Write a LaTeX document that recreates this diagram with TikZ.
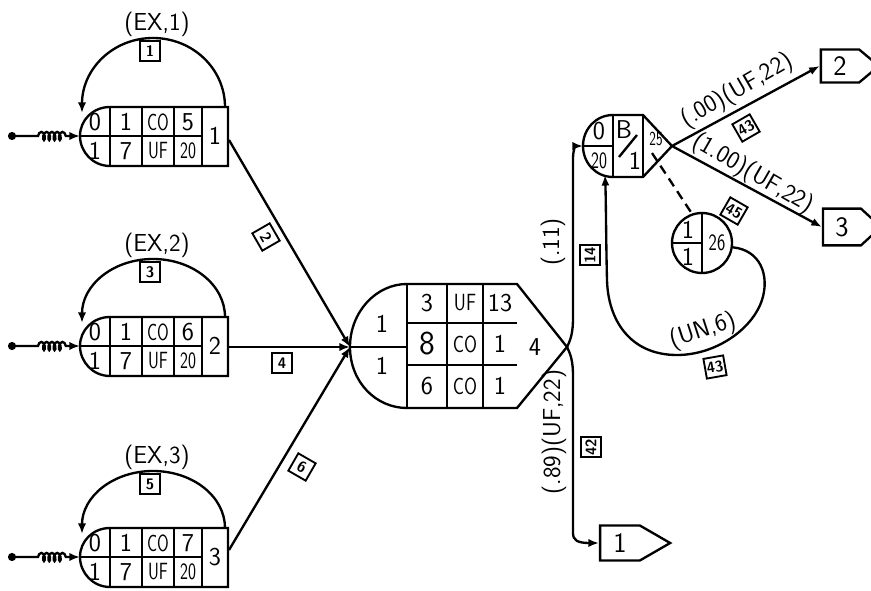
\documentclass[tikz,border=0pt]{standalone}
\usepackage{fontspec}
\usetikzlibrary{arrows.meta,positioning,shapes.symbols,decorations.pathmorphing}

\begin{document}
\begin{tikzpicture}[x=0.3mm,y=-0.3mm,>={Latex[length=9pt,width=7pt]},
  line width=2pt,
  celltxt/.style={font=\sffamily\fontsize{22}{22}\selectfont,inner sep=0pt},
  cellsm/.style={font=\sffamily\fontsize{20}{20}\selectfont,inner sep=0pt},
  edgelab/.style={font=\sffamily\fontsize{21}{21}\selectfont,inner sep=1pt},
  idbox/.style={draw,line width=1.6pt,font=\sffamily\bfseries\fontsize{13}{13}\selectfont,minimum size=6mm,inner sep=0pt},
  sinkbox/.style={draw,signal,signal to=east,line width=2pt,font=\sffamily\fontsize{24}{24}\selectfont,inner sep=0pt}]
\useasboundingbox (0,0) rectangle (871,591);

% source nodes with feedback loops
\foreach \c/\n/\a/\b/\r/\o in {136/1/5/1/69/4,346/2/6/3/58/1,557/3/7/5/57/-7}{
\begin{scope}[shift={(0,\c)}]
  \draw (228,-29) -- (110,-29) .. controls (93,-29) and (80,-16) .. (80,0)
    .. controls (80,16) and (93,30) .. (110,30) -- (228,30) -- cycle;
  \draw (80,0) -- (202,0) (110,-29) -- (110,30) (142,-29) -- (142,30)
    (174,-29) -- (174,30) (202,-29) -- (202,30);
  \node[celltxt] at (95,-14) {0};
  \node[celltxt] at (95,15) {1};
  \node[celltxt] at (126,-14) {1};
  \node[celltxt] at (126,15) {7};
  \node[cellsm] at (158,-14) {\scalebox{.72}[1]{CO}};
  \node[cellsm] at (158,15) {\scalebox{.72}[1]{UF}};
  \node[celltxt] at (188,-14) {\a};
  \node[cellsm] at (188,15) {\scalebox{.72}[1]{20}};
  \node[celltxt] (src\n) at (215,0) {\n};
  \coordinate (out\n) at (229,\o);
  \coordinate (in\n) at (12,0);
  \fill (in\n) circle (3.5pt);
  \draw[->] (in\n) -- (38,0)
    decorate[decoration={coil,aspect=0.5,segment length=4.5pt,amplitude=3.5pt}] {-- (66,0)}
    -- (80,0);
  \draw[->] (225,-29) .. controls (225,-29-0.55*\r) and (193,-29-\r) .. (153,-29-\r)
    .. controls (113,-29-\r) and (82,-29-0.55*\r) .. (82,-23);
  \node[edgelab] at (157,-43-\r) {(EX,\n)};
  \node[idbox] at (150,-16-\r) {\b};
\end{scope}}

% merge node 4
\draw (517,284) -- (407,284) .. controls (376,284) and (350,312) .. (350,347)
  .. controls (350,382) and (376,408) .. (407,408) -- (517,408) -- (567,347) -- cycle;
\draw (350,347) -- (407,347) (407,284) -- (407,408) (447,284) -- (447,408)
  (483,284) -- (483,408) (407,323) -- (517,323) (407,365) -- (517,365);
\node[celltxt] at (382,324) {1};
\node[celltxt] at (382,366) {1};
\node[celltxt] at (427,303) {3};
\node[cellsm] at (465,303) {\scalebox{.8}[1]{UF}};
\node[celltxt] at (500,303) {13};
\node[celltxt,scale=1.3] at (427,344) {8};
\node[cellsm] at (465,344) {\scalebox{.8}[1]{CO}};
\node[celltxt] at (500,344) {1};
\node[celltxt] at (427,386) {6};
\node[cellsm] at (465,386) {\scalebox{.8}[1]{CO}};
\node[celltxt] at (500,386) {1};
\node[celltxt] (merge) at (535,347) {4};
\coordinate (mid) at (350,347);
\coordinate (n4tip) at (567,347);

\draw[->] (out1) -- (mid);
\draw[->] (out2) -- (mid);
\draw[->] (out3) -- (mid);
\node[idbox,rotate=-60] at (266,237) {2};
\node[idbox] at (282,363) {4};
\node[idbox,rotate=-30] at (302,467) {6};

% branch node B
\draw (643,115) -- (613,115) .. controls (596,115) and (583,129) .. (583,146)
  .. controls (583,163) and (596,177) .. (613,177) -- (643,177) -- (672,146) -- cycle;
\draw (583,146) -- (613,146) (613,115) -- (613,177) (643,115) -- (643,177);
\draw (619,157) -- (637,135);
\node[celltxt] at (599,131) {0};
\node[cellsm] at (599,161) {\scalebox{.72}[1]{20}};
\node[celltxt] (bnode) at (624,130) {B};
\node[celltxt] at (635,161) {1};
\node[cellsm] at (656,139) {\scalebox{.6}[.85]{25}};
\coordinate (bwest) at (583,146);
\coordinate (bsouth) at (605,175);
\coordinate (btip) at (672,146);
\coordinate (bdash) at (652,153);

% sub node 26
\node[draw,circle,minimum size=18mm,inner sep=0pt] (sub) at (702,243) {};
\draw (sub.west) -- (sub.center) (sub.north) -- (sub.south);
\node[celltxt] at (688,230) {1};
\node[celltxt] at (688,257) {1};
\node[cellsm] at (717,243) {\scalebox{.75}[1]{26}};
\draw[dashed,dash pattern=on 8pt off 5pt] (bdash) -- (sub.109);
\draw[->] (sub.-8) .. controls (760,250) and (770,275) .. (762,300)
  .. controls (752,330) and (715,355) .. (677,355)
  .. controls (630,355) and (608,320) .. (607,280)
  .. controls (606,240) and (606,200) .. (bsouth);
\node[edgelab,rotate=18] at (703,331) {(UN,6)};
\node[idbox,rotate=10] at (715,367) {43};

% exits
\node[sinkbox,signal pointer angle=80,minimum width=17.4mm,minimum height=9.9mm] (p2) at (840,66) {2};
\node[sinkbox,signal pointer angle=85,minimum width=17.4mm,minimum height=11mm] (p3) at (842,227) {3};
\node[sinkbox,signal pointer angle=60,minimum width=21mm,minimum height=10.5mm] (p1) at (620,543) {1};

\draw[->] (n4tip) .. controls (571,339) and (573,332) .. (573,318) -- (573,158)
  .. controls (573,150) and (576,146) .. (bwest);
\draw[->] (n4tip) .. controls (571,355) and (573,362) .. (573,376) -- (573,533)
  .. controls (573,540) and (577,543) .. (p1.west);
\node[edgelab,rotate=90] at (553,242) {(.11)};
\node[idbox,rotate=90] at (590,255) {14};
\node[edgelab,rotate=90] at (554,432) {(.89)(UF,22)};
\node[idbox,rotate=90] at (591,447) {42};

\draw[->] (btip) -- (p2.west);
\draw[->] (btip) -- (p3.west);
\node[edgelab,rotate=30] at (737,91) {(.00)(UF,22)};
\node[idbox,rotate=30] at (746,128) {43};
\node[edgelab,rotate=-30] at (753,174) {(1.00)(UF,22)};
\node[idbox,rotate=-30] at (734,211) {45};
\end{tikzpicture}
\end{document}
